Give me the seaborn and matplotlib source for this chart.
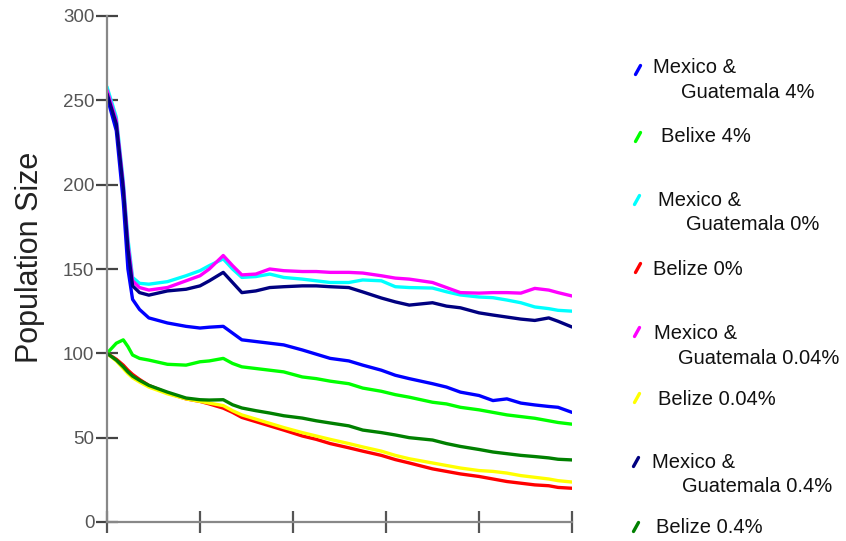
import matplotlib
matplotlib.use("Agg")
import matplotlib.pyplot as plt
from matplotlib.lines import Line2D
import seaborn as sns
import pandas as pd

# ---------------- data ----------------
generations = [0, 2, 3.5, 4.5, 5.5, 7, 9, 13, 17, 20, 22, 25, 27, 29, 32, 35, 38, 42,
               45, 48, 52, 55, 59, 62, 65, 70, 73, 76, 80, 83, 86, 89, 92, 95, 97, 100]

mg_4 = [252, 232, 190, 150, 132, 126, 121, 118, 116, 115, 115.5, 116, 112, 108, 107, 106,
        105, 102, 99.5, 97, 95.5, 93, 90, 87, 85, 82, 80, 77, 75, 72, 73, 70.5, 69.4, 68.5, 68, 65]
belize_4 = [100, 106, 108, 104, 99, 97, 96, 93.5, 93, 95, 95.5, 97, 94, 92, 91, 90, 89, 86,
            85, 83.5, 82, 79.4, 77.5, 75.5, 74, 71, 70, 68, 66.5, 65, 63.5, 62.5, 61.5, 60, 59, 58]
mg_0 = [258, 240, 202, 168, 145, 141.5, 141, 142.5, 146, 149, 152, 156, 150, 145, 145.5, 147,
        145, 144, 143, 142, 142, 143.5, 143, 139.5, 139, 138.7, 136.5, 134.6, 133.4, 133, 131.6,
        130, 127.5, 126.5, 125.5, 125]
belize_0 = [100, 96.5, 93, 90, 87.5, 84.5, 81, 76.5, 73, 71.5, 70, 67.5, 65, 62, 59.5, 57,
            54.5, 51, 49, 46.5, 44, 42, 39.5, 37, 35, 31.5, 30, 28.5, 27, 25.5, 24, 23, 22, 21.5, 20.5, 20]
mg_004 = [256, 238, 200, 165, 143, 139, 137.5, 139, 143, 146, 150, 158, 152, 146.5, 147, 150,
          149, 148.5, 148.5, 148, 148, 147.6, 146, 144.6, 144, 142, 139, 136, 135.7, 136, 136,
          135.7, 138.5, 137.5, 136, 134]
belize_004 = [100, 95.5, 91, 88, 85.5, 83, 80, 76, 73, 71.5, 70.5, 69, 66, 63.5, 61, 58.5, 56,
              53, 51, 49, 46.5, 44.5, 42, 39.5, 37.5, 35, 33.5, 32, 30.5, 30, 29, 27.5, 26.5, 25.5, 24.5, 23.7]
mg_04 = [254, 236, 198, 162, 140, 136, 134.5, 137, 138, 140, 143, 148, 142, 136, 137, 139,
         139.5, 140, 140, 139.5, 139, 136.4, 132.8, 130.5, 128.6, 130, 128, 127, 124, 122.7,
         121.5, 120.3, 119.5, 121, 119, 115.6]
belize_04 = [100, 96, 92, 89, 86.5, 84, 81, 77, 73.5, 72.5, 72.3, 72.5, 69.5, 67.6, 66, 64.6,
             63, 61.6, 60, 58.7, 57, 54.5, 53, 51.6, 50, 48.6, 46.5, 44.8, 43, 41.5, 40.5, 39.5,
             38.8, 38, 37.2, 36.8]

series_names = ["Mexico & Guatemala 4%", "Belixe 4%", "Mexico & Guatemala 0%", "Belize 0%",
                "Mexico & Guatemala 0.04%", "Belize 0.04%", "Mexico & Guatemala 0.4%", "Belize 0.4%"]
series_values = [mg_4, belize_4, mg_0, belize_0, mg_004, belize_004, mg_04, belize_04]
series_colors = ["#0000ff", "#00ff00", "#00ffff", "#ff0000",
                 "#ff00ff", "#ffff00", "#000080", "#008000"]
legend_lines = [["Mexico &", "Guatemala 4%"], ["Belixe 4%"],
                ["Mexico &", "Guatemala 0%"], ["Belize 0%"],
                ["Mexico &", "Guatemala 0.04%"], ["Belize 0.04%"],
                ["Mexico &", "Guatemala 0.4%"], ["Belize 0.4%"]]
y_ticks = [0, 50, 100, 150, 200, 250, 300]
x_ticks = [0, 20, 40, 60, 80, 100]

# ---------------- figure ----------------
sns.set_style("white")
plt.rcParams["font.family"] = ["Liberation Sans", "DejaVu Sans"]

W, H = 846, 541
fig = plt.figure(figsize=(W / 100, H / 100), dpi=100)
ax = fig.add_axes([107 / W, 1 - 522 / H, (572 - 107) / W, (522 - 16) / H])

rows = []
for name, vals in zip(series_names, series_values):
    for g, v in zip(generations, vals):
        rows.append({"Generation": g, "Population": v, "Series": name})
df = pd.DataFrame(rows)

sns.lineplot(data=df, x="Generation", y="Population", hue="Series",
             hue_order=series_names, palette=dict(zip(series_names, series_colors)),
             linewidth=2.4, legend=False, ax=ax, estimator=None, sort=False)

ax.set_xlim(0, 100)
ax.set_ylim(0, 300)
ax.set_xticks(x_ticks)
ax.set_yticks(y_ticks)
ax.set_xlabel("")
ax.set_ylabel("")
ax.tick_params(axis="x", bottom=True, direction="inout", length=16, width=1.6,
               color="#555555", labelbottom=False)
ax.tick_params(axis="y", left=True, direction="inout", length=16, width=1.6,
               color="#444444", labelsize=13.5, labelcolor="#555555", pad=1)
for s in ["top", "right"]:
    ax.spines[s].set_visible(False)
for s in ["left", "bottom"]:
    ax.spines[s].set_color("#888888")
    ax.spines[s].set_linewidth(1.6)

fig.text(30 / W, 1 - 257 / H, "Population Size", rotation=90, ha="center", va="center",
         fontsize=22, color="#222222")

# ---------------- custom legend ----------------
marker_pos = [(638, 70), (638, 137), (637, 200), (638, 268),
              (637, 332), (637, 398), (636, 462), (636, 527)]
text_pos = [[(653, 73), (681, 98)], [(661, 142)],
            [(658, 206), (686, 230)], [(653, 275)],
            [(654, 339), (678, 364)], [(658, 405)],
            [(652, 468), (682, 492)], [(656, 533)]]

for (mx, my), color, lines, poss in zip(marker_pos, series_colors, legend_lines, text_pos):
    fig.add_artist(Line2D([(mx - 2.5) / W, (mx + 2.5) / W],
                          [1 - (my + 4.5) / H, 1 - (my - 4.5) / H],
                          transform=fig.transFigure, color=color, lw=2.4,
                          solid_capstyle="round"))
    for txt, (tx, ty) in zip(lines, poss):
        fig.text(tx / W, 1 - ty / H, txt, ha="left", va="baseline",
                 fontsize=14.5, color="#111111")

fig.savefig("out.png", dpi=100)
